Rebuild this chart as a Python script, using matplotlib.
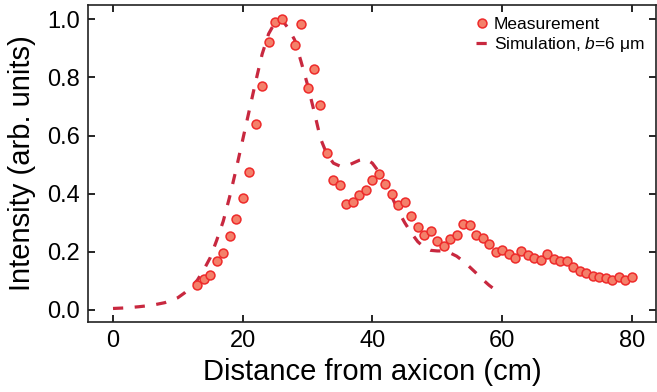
import matplotlib
matplotlib.use("Agg")
import matplotlib.pyplot as plt

plt.rcParams['font.family'] = ['Liberation Sans', 'DejaVu Sans']
plt.rcParams['mathtext.fontset'] = 'custom'
plt.rcParams['mathtext.it'] = 'Liberation Sans:italic'
plt.rcParams['mathtext.rm'] = 'Liberation Sans'

meas_x = [13, 14, 15, 16, 17, 18, 19, 20, 21, 22, 23, 24, 25, 26, 28, 29, 30, 31, 32, 33,
          34, 35, 36, 37, 38, 39, 40, 41, 42, 43, 44, 45, 46, 47, 48, 49, 50, 51, 52, 53,
          54, 55, 56, 57, 58, 59, 60, 61, 62, 63, 64, 65, 66, 67, 68, 69, 70, 71, 72, 73,
          74, 75, 76, 77, 78, 79, 80]
meas_y = [0.086, 0.107, 0.120, 0.170, 0.195, 0.255, 0.312, 0.386, 0.475, 0.639, 0.772, 0.921,
          0.990, 1.000, 0.913, 0.984, 0.763, 0.828, 0.705, 0.539,
          0.447, 0.430, 0.364, 0.370, 0.397, 0.413, 0.447, 0.467, 0.433, 0.399, 0.360, 0.370,
          0.323, 0.284, 0.259, 0.272, 0.238, 0.221, 0.245, 0.259,
          0.296, 0.293, 0.257, 0.247, 0.226, 0.198, 0.206, 0.194, 0.178, 0.202, 0.188, 0.177,
          0.172, 0.193, 0.175, 0.169, 0.169, 0.146, 0.135, 0.126,
          0.116, 0.115, 0.109, 0.103, 0.114, 0.102, 0.115]

sim_x = [0, 2, 4, 6, 8, 10, 11, 12, 13, 14, 15, 16, 17, 18, 19, 20, 21, 22, 23, 24, 25, 26,
         27, 28, 29, 30, 31, 32, 33, 34, 35, 36, 37, 38, 39, 40, 41, 42, 43, 44, 45, 46, 47,
         48, 49, 50, 51, 52, 53, 54, 55, 56, 57, 58, 59]
sim_y = [0.005, 0.007, 0.011, 0.016, 0.025, 0.042, 0.058, 0.078, 0.102, 0.138, 0.180, 0.240,
         0.305, 0.390, 0.485, 0.585, 0.685, 0.785, 0.880, 0.950, 0.990, 1.000,
         0.970, 0.930, 0.855, 0.775, 0.685, 0.590, 0.535, 0.505, 0.495, 0.495, 0.505, 0.515,
         0.520, 0.505, 0.475, 0.435, 0.390, 0.340, 0.300, 0.265, 0.235,
         0.215, 0.205, 0.203, 0.203, 0.196, 0.185, 0.168, 0.148, 0.127, 0.105, 0.085, 0.068]

fig = plt.figure(figsize=(6.57, 3.92), dpi=100)
ax = fig.add_axes([0.134, 0.179, 0.864, 0.808])

ax.plot(sim_x, sim_y, linestyle=(0, (3.2, 3.6)), color='#C8283F', lw=2.3,
        label='Simulation, $b$=6 μm', zorder=2)
ax.plot(meas_x, meas_y, 'o', ms=6.4, mfc='#F4806A', mec='#EE2A2A', mew=1.1,
        label='Measurement', zorder=3)

ax.set_xlim(-3.85, 83.7)
ax.set_ylim(-0.041, 1.049)
ax.set_xticks([0, 20, 40, 60, 80])
ax.set_yticks([0.0, 0.2, 0.4, 0.6, 0.8, 1.0])
ax.set_yticklabels(['0.0', '0.2', '0.4', '0.6', '0.8', '1.0'])
ax.tick_params(direction='in', length=5, width=1.2, top=True, right=True,
               labelsize=17, pad=6, colors='black')
for s in ax.spines.values():
    s.set_linewidth(1.2)
    s.set_color('#222222')

ax.set_xlabel('Distance from axicon (cm)', fontsize=21, labelpad=4)
ax.set_ylabel('Intensity (arb. units)', fontsize=21, labelpad=8)

h, l = ax.get_legend_handles_labels()
ax.legend([h[1], h[0]], [l[1], l[0]], loc='upper right', frameon=False, fontsize=12.5,
          handlelength=0.6, handletextpad=0.4, borderaxespad=0.2, labelspacing=0.15,
          bbox_to_anchor=(0.998, 0.995))

fig.savefig('out.png', dpi=100)
